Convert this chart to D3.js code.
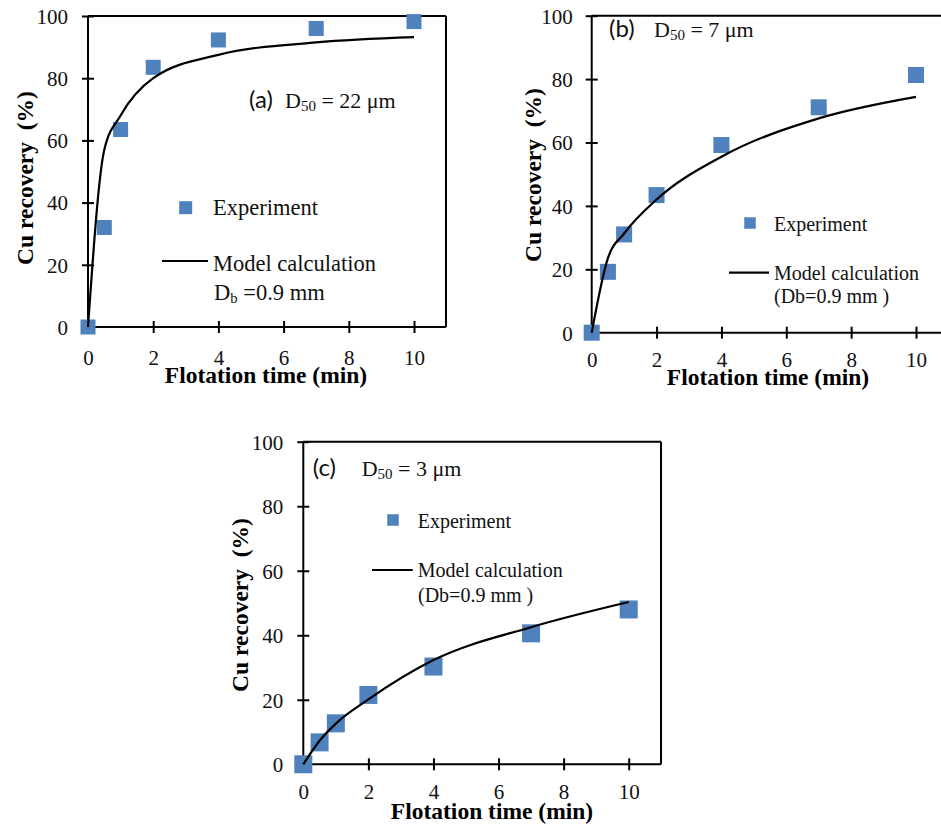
<!DOCTYPE html>
<html>
<head>
<meta charset="utf-8">
<script src="https://cdn.jsdelivr.net/npm/d3@7"></script>
<style>
  html, body { margin: 0; padding: 0; background: #fff; }
  svg text { white-space: pre; }
</style>
</head>
<body>
<svg id="chart" width="941" height="826"></svg>
<script>
// Flotation time points (min) shared by all three particle sizes
const times = [0, 0.5, 1, 2, 4, 7, 10];

// Cu recovery (%) — measured
const expA = [0, 32, 63.5, 83.5, 92.3, 96, 98.2];   // D50 = 22 µm
const expB = [0, 19.2, 31, 43.4, 59.2, 71.1, 81.3]; // D50 = 7 µm
const expC = [0, 6.8, 12.7, 21.5, 30.3, 40.6, 48];  // D50 = 3 µm

// Cu recovery (%) — model calculation, Db = 0.9 mm
const modelA = [0, 57, 68, 80, 87.5, 91.5, 93.2];
const modelB = [0, 23.5, 31.3, 42, 55.5, 67.6, 74.4];
const modelC = [0, 7.3, 12.6, 20.1, 32.3, 42.5, 50.3];

// Axis ticks
const xTicks = [0, 2, 4, 6, 8, 10];
const yTicks = [0, 20, 40, 60, 80, 100];

// Text
const xTitle = "Flotation time (min)";
const yTitle = "Cu recovery  (%)";
const legendExp = "Experiment";
const legendModel = "Model calculation";

const SERIF = "'Liberation Serif', 'Times New Roman', serif";
const SANS = "Lato, 'Open Sans', sans-serif";
const BLUE = "#4F81BD";

const svg = d3.select("#chart");

const panels = [
  {
    id: "a", exp: expA, model: modelA, tag: "(a)", d50: "22",
    x0: 88, x10: 414, right: 446, yTop: 16, yBot: 327,
    marker: 15, xLabelDy: 31, yLabelGap: 20,
    tagX: 249, dX: 285, tagY: 108,
    xTitleX: 266, xTitleY: 383, yTitleX: 33, yTitleY: 178,
    legendFont: 22.5, legMarker: 13,
    legMX: 185.7, legMY: 207.7, legTX: 213, legExpY: 215,
    legL1: 162, legL2: 208, legLY: 261, legModelY: 270.7,
    dbStyle: "sub", dbX: 214, dbY: 300
  },
  {
    id: "b", exp: expB, model: modelB, tag: "(b)", d50: "7",
    x0: 591.7, x10: 916, right: 948, yTop: 15.7, yBot: 332.7,
    marker: 16, xLabelDy: 27, yLabelGap: 19,
    tagX: 609, dX: 654, tagY: 37,
    xTitleX: 768, xTitleY: 385, yTitleX: 541, yTitleY: 175,
    legendFont: 20, legMarker: 11.5,
    legMX: 750, legMY: 223, legTX: 774, legExpY: 230.7,
    legL1: 729, legL2: 769, legLY: 272.7, legModelY: 280,
    dbStyle: "paren", dbX: 774, dbY: 303.3
  },
  {
    id: "c", exp: expC, model: modelC, tag: "(c)", d50: "3",
    x0: 303.3, x10: 628.7, right: 661, yTop: 441.7, yBot: 764.3,
    marker: 18, xLabelDy: 27, yLabelGap: 20,
    tagX: 312.7, dX: 361.7, tagY: 476,
    xTitleX: 492, xTitleY: 819, yTitleX: 248, yTitleY: 605,
    legendFont: 20, legMarker: 11.5,
    legMX: 393, legMY: 520, legTX: 417.7, legExpY: 528.3,
    legL1: 372, legL2: 412.7, legLY: 570, legModelY: 576.7,
    dbStyle: "paren", dbX: 418, dbY: 601.7
  }
];

function drawPanel(p) {
  const g = svg.append("g").attr("class", "panel-" + p.id);
  const x = d3.scaleLinear().domain([0, 10]).range([p.x0, p.x10]);
  const y = d3.scaleLinear().domain([0, 100]).range([p.yBot, p.yTop]);

  // Plot frame: top and right edges
  g.append("line")
    .attr("x1", p.x0).attr("x2", p.right)
    .attr("y1", y(100)).attr("y2", y(100))
    .attr("stroke", "#000").attr("stroke-width", 2);
  g.append("line")
    .attr("x1", p.right).attr("x2", p.right)
    .attr("y1", y(100)).attr("y2", y(0))
    .attr("stroke", "#000").attr("stroke-width", 2);

  // X axis
  const xAxis = g.append("g")
    .attr("transform", `translate(0,${y(0)})`)
    .call(d3.axisBottom(x).tickValues(xTicks).tickSize(6).tickSizeOuter(0).tickFormat(d3.format("d")));
  xAxis.attr("font-family", null).attr("font-size", null);
  xAxis.select(".domain").remove();
  xAxis.selectAll(".tick line").attr("y1", -6).attr("y2", 6)
    .attr("stroke", "#000").attr("stroke-width", 2);
  xAxis.selectAll(".tick text")
    .attr("y", p.xLabelDy).attr("dy", "0.35em")
    .style("font-family", SERIF).style("font-size", "21px").attr("fill", "#111");
  g.append("line")
    .attr("x1", p.x0).attr("x2", p.right)
    .attr("y1", y(0)).attr("y2", y(0))
    .attr("stroke", "#000").attr("stroke-width", 2);

  // Y axis
  const yAxis = g.append("g")
    .attr("transform", `translate(${p.x0},0)`)
    .call(d3.axisLeft(y).tickValues(yTicks).tickSize(6).tickSizeOuter(0).tickFormat(d3.format("d")));
  yAxis.attr("font-family", null).attr("font-size", null);
  yAxis.select(".domain").remove();
  yAxis.selectAll(".tick line").attr("x1", -6).attr("x2", 6)
    .attr("stroke", "#000").attr("stroke-width", 2);
  yAxis.selectAll(".tick text")
    .attr("x", -p.yLabelGap).attr("dy", "0.35em")
    .style("font-family", SERIF).style("font-size", "21px").attr("fill", "#111");
  g.append("line")
    .attr("x1", p.x0).attr("x2", p.x0)
    .attr("y1", y(0)).attr("y2", y(100))
    .attr("stroke", "#000").attr("stroke-width", 2);

  // Axis titles
  g.append("text")
    .attr("x", p.xTitleX).attr("y", p.xTitleY)
    .attr("text-anchor", "middle")
    .style("font-family", SERIF).style("font-weight", "bold").style("font-size", "23.5px")
    .text(xTitle);
  g.append("text")
    .attr("transform", `translate(${p.yTitleX},${p.yTitleY}) rotate(-90)`)
    .attr("text-anchor", "middle")
    .style("font-family", SERIF).style("font-weight", "bold").style("font-size", "23.5px")
    .text(yTitle);

  // Experimental points
  const pts = times.map((t, i) => ({ t, v: p.exp[i] }));
  g.append("g").selectAll("rect").data(pts).join("rect")
    .attr("x", d => x(d.t) - p.marker / 2)
    .attr("y", d => y(d.v) - p.marker / 2)
    .attr("width", p.marker).attr("height", p.marker)
    .attr("fill", BLUE);

  // Model curve
  const line = d3.line()
    .x((d, i) => x(times[i]))
    .y(d => y(d))
    .curve(d3.curveMonotoneX);
  g.append("path")
    .attr("d", line(p.model))
    .attr("fill", "none").attr("stroke", "#000").attr("stroke-width", 2.2);

  // Panel tag and particle size
  g.append("text")
    .attr("x", p.tagX).attr("y", p.tagY)
    .style("font-family", SANS).style("font-size", "24px").attr("fill", "#111")
    .text(p.tag);
  const dt = g.append("text")
    .attr("x", p.dX).attr("y", p.tagY)
    .style("font-family", SERIF).style("font-size", "22px").attr("fill", "#111");
  dt.append("tspan").text("D");
  dt.append("tspan").style("font-size", "15px").attr("dy", 3).text("50");
  dt.append("tspan").attr("dy", -3).text(" = " + p.d50 + " μm");

  // Legend
  g.append("rect")
    .attr("x", p.legMX - p.legMarker / 2).attr("y", p.legMY - p.legMarker / 2)
    .attr("width", p.legMarker).attr("height", p.legMarker)
    .attr("fill", BLUE);
  g.append("text")
    .attr("x", p.legTX).attr("y", p.legExpY)
    .style("font-family", SERIF).style("font-size", p.legendFont + "px").attr("fill", "#111")
    .text(legendExp);
  g.append("line")
    .attr("x1", p.legL1).attr("x2", p.legL2)
    .attr("y1", p.legLY).attr("y2", p.legLY)
    .attr("stroke", "#000").attr("stroke-width", 2.2);
  g.append("text")
    .attr("x", p.legTX).attr("y", p.legModelY)
    .style("font-family", SERIF).style("font-size", p.legendFont + "px").attr("fill", "#111")
    .text(legendModel);
  const db = g.append("text")
    .attr("x", p.dbX).attr("y", p.dbY)
    .style("font-family", SERIF).style("font-size", p.legendFont + "px").attr("fill", "#111");
  if (p.dbStyle === "sub") {
    db.append("tspan").text("D");
    db.append("tspan").style("font-size", (p.legendFont * 0.65) + "px").attr("dy", 3).text("b");
    db.append("tspan").attr("dy", -3).text(" =0.9 mm");
  } else {
    db.text("(Db=0.9 mm )");
  }
}

panels.forEach(drawPanel);
</script>
</body>
</html>
